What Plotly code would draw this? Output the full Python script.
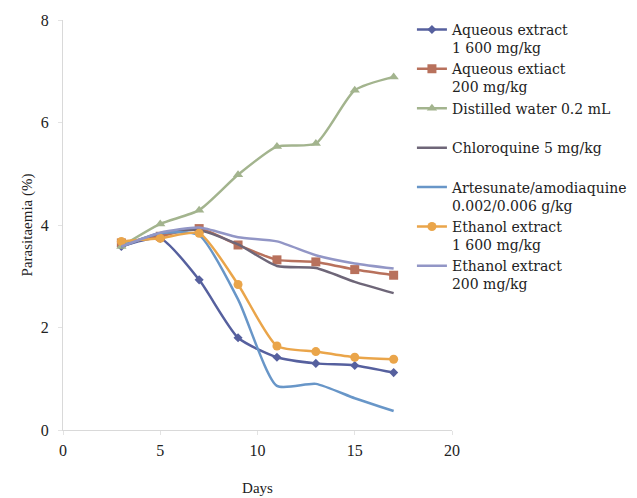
import plotly.graph_objects as go

days = [3, 5, 7, 9, 11, 13, 15, 17]

aqueous_1600 = [3.58, 3.74, 2.93, 1.80, 1.42, 1.30, 1.26, 1.12]
aqueous_200 = [3.65, 3.78, 3.93, 3.61, 3.32, 3.28, 3.13, 3.02]
distilled_water = [3.58, 4.02, 4.29, 4.98, 5.53, 5.59, 6.63, 6.89]
chloroquine = [3.58, 3.84, 3.90, 3.62, 3.20, 3.16, 2.89, 2.67]
artesunate = [3.58, 3.84, 3.80, 2.55, 0.86, 0.90, 0.62, 0.37]
ethanol_1600 = [3.68, 3.74, 3.84, 2.84, 1.64, 1.53, 1.42, 1.38]
ethanol_200 = [3.58, 3.85, 3.95, 3.76, 3.68, 3.41, 3.25, 3.15]

names = [
    "Aqueous extract<br>1 600 mg/kg",
    "Aqueous extiact<br>200 mg/kg",
    "Distilled water 0.2 mL<br> ",
    "Chloroquine 5 mg/kg<br> ",
    "Artesunate/amodiaquine<br>0.002/0.006 g/kg",
    "Ethanol extract<br>1 600 mg/kg",
    "Ethanol extract<br>200 mg/kg",
]
series = [aqueous_1600, aqueous_200, distilled_water, chloroquine,
          artesunate, ethanol_1600, ethanol_200]
colors = ["#56609e", "#b8715c", "#a3b48e", "#6e6678",
          "#6896c8", "#eaa54a", "#9296c6"]
symbols = ["diamond", "square", "triangle-up", None, None, "circle", None]
sizes = [7, 9, 9, 0, 0, 9, 0]

fig = go.Figure()
for name, ys, c, s, sz in zip(names, series, colors, symbols, sizes):
    mode = "lines+markers" if s else "lines"
    fig.add_trace(go.Scatter(
        x=days, y=ys, name=name, mode=mode,
        line=dict(color=c, width=2.5, shape="spline", smoothing=0.6),
        marker=dict(symbol=s, size=sz, color=c) if s else None,
    ))

font = "Liberation Serif, Times New Roman, serif"
legend_font = "DejaVu Serif, Liberation Serif, serif"
fig.update_layout(
    template="none",
    width=637, height=498,
    margin=dict(l=55, r=193, t=12, b=76, autoexpand=False),
    paper_bgcolor="white", plot_bgcolor="white",
    font=dict(family=font, size=16, color="#222"),
    showlegend=True,
    legend=dict(
        x=0.897, xanchor="left", y=1.015, yanchor="top",
        maxheight=480,
        font=dict(family=legend_font, size=14, color="#222"),
        valign="top", tracegroupgap=0, itemwidth=30,
        bgcolor="rgba(0,0,0,0)", borderwidth=0,
    ),
    xaxis=dict(
        range=[0, 20], tickvals=[0, 5, 10, 15, 20],
        showgrid=False, zeroline=False, automargin=False,
        showline=True, linecolor="#d9d9d9", linewidth=1,
        ticks="outside", ticklen=4, tickcolor="#e3e3e3",
        ticklabelstandoff=2,
        tickfont=dict(family=font, size=16, color="#222"),
        title=dict(text="Days", font=dict(family=font, size=15), standoff=24),
    ),
    yaxis=dict(
        range=[0, 8], tickvals=[0, 2, 4, 6, 8],
        showgrid=False, zeroline=False, automargin=False,
        showline=True, linecolor="#d9d9d9", linewidth=1,
        ticks="outside", ticklen=4, tickcolor="#e3e3e3",
        ticklabelstandoff=6,
        tickfont=dict(family=font, size=16, color="#222"),
        title=dict(text="Parasitaemia (%)", font=dict(family=font, size=15), standoff=4),
    ),
)

fig.write_html("out.html")
